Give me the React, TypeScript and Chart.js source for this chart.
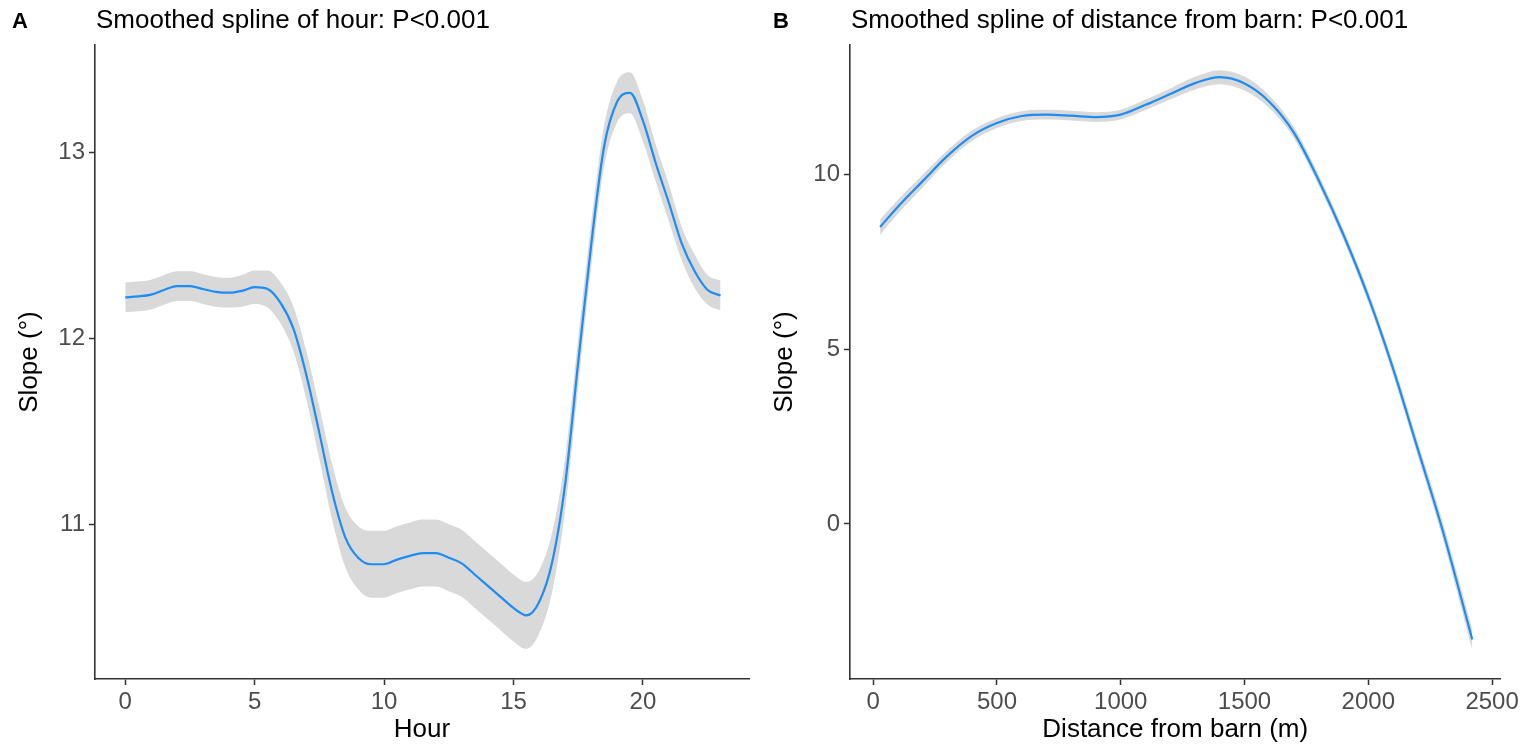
import React, { useEffect, useRef } from "react";
import { Chart, registerables } from "chart.js";

Chart.register(...registerables);

// ---------- Panel A: smoothed spline of hour ----------
const hours = [0, 0.5, 1, 1.5, 2, 2.5, 3, 3.5, 4, 4.5, 5, 5.5, 6, 6.5, 7, 7.5, 8, 8.5, 9, 9.5, 10, 10.5, 11, 11.5, 12, 12.5, 13, 13.5, 14, 14.5, 15, 15.5, 16, 16.5, 17, 17.5, 18, 18.5, 19, 19.5, 20, 20.5, 21, 21.5, 22, 22.5, 23];
const hourMean = [12.22, 12.225, 12.235, 12.26, 12.28, 12.28, 12.265, 12.25, 12.245, 12.255, 12.275, 12.265, 12.19, 12.05, 11.8, 11.49, 11.17, 10.93, 10.82, 10.785, 10.785, 10.81, 10.83, 10.845, 10.845, 10.82, 10.79, 10.73, 10.67, 10.61, 10.55, 10.51, 10.585, 10.8, 11.22, 11.87, 12.5, 13.03, 13.27, 13.32, 13.17, 12.94, 12.73, 12.51, 12.36, 12.26, 12.23];
const hourUpper = [12.3, 12.305, 12.315, 12.34, 12.36, 12.36, 12.345, 12.33, 12.325, 12.34, 12.365, 12.365, 12.3, 12.17, 11.93, 11.63, 11.32, 11.09, 10.99, 10.965, 10.965, 10.99, 11.01, 11.025, 11.025, 11.0, 10.97, 10.91, 10.85, 10.79, 10.73, 10.69, 10.755, 10.96, 11.36, 12.0, 12.62, 13.14, 13.38, 13.43, 13.28, 13.04, 12.83, 12.6, 12.45, 12.34, 12.31];
const hourLower = [12.14, 12.145, 12.155, 12.18, 12.2, 12.2, 12.185, 12.17, 12.165, 12.17, 12.185, 12.165, 12.08, 11.93, 11.67, 11.35, 11.02, 10.77, 10.65, 10.605, 10.605, 10.63, 10.65, 10.665, 10.665, 10.64, 10.61, 10.55, 10.49, 10.43, 10.37, 10.33, 10.415, 10.64, 11.08, 11.74, 12.38, 12.92, 13.16, 13.21, 13.06, 12.84, 12.63, 12.42, 12.27, 12.18, 12.15];
const hourXTicks = [0, 5, 10, 15, 20];
const hourYTicks = [11, 12, 13];

// ---------- Panel B: smoothed spline of distance from barn ----------
const distance = [28, 100, 200, 300, 400, 500, 600, 700, 800, 900, 1000, 1100, 1200, 1300, 1400, 1500, 1600, 1700, 1800, 1900, 2000, 2100, 2200, 2300, 2420];
const distMean = [8.49, 9.07, 9.8, 10.52, 11.1, 11.46, 11.66, 11.7, 11.67, 11.63, 11.7, 11.98, 12.29, 12.6, 12.77, 12.59, 12.07, 11.18, 9.82, 8.26, 6.49, 4.44, 2.14, -0.17, -3.3];
const distUpper = [8.71, 9.27, 9.98, 10.68, 11.25, 11.6, 11.8, 11.84, 11.81, 11.77, 11.84, 12.13, 12.45, 12.78, 12.97, 12.79, 12.25, 11.34, 9.97, 8.41, 6.65, 4.62, 2.34, 0.07, -3.0];
const distLower = [8.27, 8.87, 9.62, 10.36, 10.95, 11.32, 11.52, 11.56, 11.53, 11.49, 11.56, 11.83, 12.13, 12.42, 12.57, 12.39, 11.89, 11.02, 9.67, 8.11, 6.33, 4.26, 1.94, -0.41, -3.6];
const distXTicks = [0, 500, 1000, 1500, 2000, 2500];
const distYTicks = [0, 5, 10];

const FAMILY = '"Liberation Sans", Arial, Helvetica, sans-serif';
const LINE_COLOR = "#1E8CF5";
const BAND_COLOR = "#D9D9D9";
const AXIS_COLOR = "#333333";
const TICK_TEXT = "#4D4D4D";

const titlePlugin = {
  id: "panelTitle",
  afterDraw(chart: any, _args: any, o: any) {
    const ctx = chart.ctx;
    ctx.save();
    ctx.fillStyle = "#000";
    ctx.textBaseline = "alphabetic";
    ctx.textAlign = "left";
    ctx.font = `bold 22px ${FAMILY}`;
    ctx.fillText(o.tag, o.tagX, o.baseline);
    ctx.font = `26px ${FAMILY}`;
    ctx.fillText(o.text, chart.chartArea.left + 1, o.baseline);
    ctx.restore();
  },
};

type PanelProps = {
  left: number;
  width: number;
  xs: number[];
  mean: number[];
  upper: number[];
  lower: number[];
  xMin: number;
  xMax: number;
  yMin: number;
  yMax: number;
  xTicks: number[];
  yTicks: number[];
  xTitle: string;
  yTitle: string;
  title: string;
  tag: string;
  tagX: number;
  yAxisWidth: number;
  rightPad: number;
  yTitlePad: number;
};

function Panel(p: PanelProps) {
  const ref = useRef<HTMLCanvasElement | null>(null);
  useEffect(() => {
    if (!ref.current) return;
    const pts = (ys: number[]) => p.xs.map((x, i) => ({ x, y: ys[i] }));
    const chart = new Chart(ref.current, {
      type: "line",
      data: {
        datasets: [
          {
            data: pts(p.mean),
            borderColor: LINE_COLOR,
            borderWidth: 2.2,
            pointRadius: 0,
            fill: false,
            cubicInterpolationMode: "monotone",
          },
          {
            data: pts(p.upper),
            borderWidth: 0,
            borderColor: "rgba(0,0,0,0)",
            backgroundColor: BAND_COLOR,
            pointRadius: 0,
            fill: "+1",
            cubicInterpolationMode: "monotone",
          },
          {
            data: pts(p.lower),
            borderWidth: 0,
            borderColor: "rgba(0,0,0,0)",
            pointRadius: 0,
            fill: false,
            cubicInterpolationMode: "monotone",
          },
        ],
      },
      options: {
        animation: false,
        responsive: false,
        events: [],
        layout: { padding: { left: 0, top: 45, right: p.rightPad, bottom: 0 } },
        plugins: {
          legend: { display: false },
          tooltip: { enabled: false },
          panelTitle: { tag: p.tag, tagX: p.tagX, baseline: 28, text: p.title },
        } as any,
        scales: {
          x: {
            type: "linear",
            min: p.xMin,
            max: p.xMax,
            afterBuildTicks: (s: any) => {
              s.ticks = p.xTicks.map((v) => ({ value: v }));
            },
            afterFit: (s: any) => {
              s.height = 69;
            },
            ticks: {
              color: TICK_TEXT,
              font: { size: 24, family: FAMILY },
              padding: 3,
              maxRotation: 0,
              autoSkip: false,
              callback: (v: any) => String(v),
            },
            grid: {
              drawOnChartArea: false,
              drawTicks: true,
              tickLength: 6,
              tickColor: AXIS_COLOR,
              tickWidth: 1.5,
            },
            border: { display: true, color: AXIS_COLOR, width: 1.6 },
            title: {
              display: true,
              text: p.xTitle,
              color: "#000",
              font: { size: 26, family: FAMILY },
              padding: { top: 0, bottom: 3 },
            },
          },
          y: {
            type: "linear",
            min: p.yMin,
            max: p.yMax,
            afterBuildTicks: (s: any) => {
              s.ticks = p.yTicks.map((v) => ({ value: v }));
            },
            afterFit: (s: any) => {
              s.width = p.yAxisWidth;
            },
            ticks: {
              color: TICK_TEXT,
              font: { size: 24, family: FAMILY },
              padding: 4,
              autoSkip: false,
              callback: (v: any) => String(v),
            },
            grid: {
              drawOnChartArea: false,
              drawTicks: true,
              tickLength: 6,
              tickColor: AXIS_COLOR,
              tickWidth: 1.5,
            },
            border: { display: true, color: AXIS_COLOR, width: 1.6 },
            title: {
              display: true,
              text: p.yTitle,
              color: "#000",
              font: { size: 26, family: FAMILY },
              padding: { top: p.yTitlePad, bottom: 0 },
            },
          },
        },
      },
      plugins: [titlePlugin],
    } as any);
    return () => chart.destroy();
  }, []);
  return (
    <canvas
      ref={ref}
      width={p.width}
      height={748}
      style={{ position: "absolute", left: p.left, top: 0, width: p.width, height: 748 }}
    />
  );
}

export default function App() {
  return (
    <div style={{ position: "fixed", left: 0, top: 0, width: 1522, height: 748, background: "#fff" }}>
      <Panel
        left={0}
        width={760}
        xs={hours}
        mean={hourMean}
        upper={hourUpper}
        lower={hourLower}
        xMin={-1.17}
        xMax={24.1}
        yMin={10.168}
        yMax={13.577}
        xTicks={hourXTicks}
        yTicks={hourYTicks}
        xTitle="Hour"
        yTitle="Slope (°)"
        title="Smoothed spline of hour: P<0.001"
        tag="A"
        tagX={12}
        yAxisWidth={95}
        rightPad={11}
        yTitlePad={14}
      />
      <Panel
        left={760}
        width={762}
        xs={distance}
        mean={distMean}
        upper={distUpper}
        lower={distLower}
        xMin={-93.6}
        xMax={2534}
        yMin={-4.43}
        yMax={13.69}
        xTicks={distXTicks}
        yTicks={distYTicks}
        xTitle="Distance from barn (m)"
        yTitle="Slope (°)"
        title="Smoothed spline of distance from barn: P<0.001"
        tag="B"
        tagX={13}
        yAxisWidth={90}
        rightPad={18}
        yTitlePad={9}
      />
    </div>
  );
}
